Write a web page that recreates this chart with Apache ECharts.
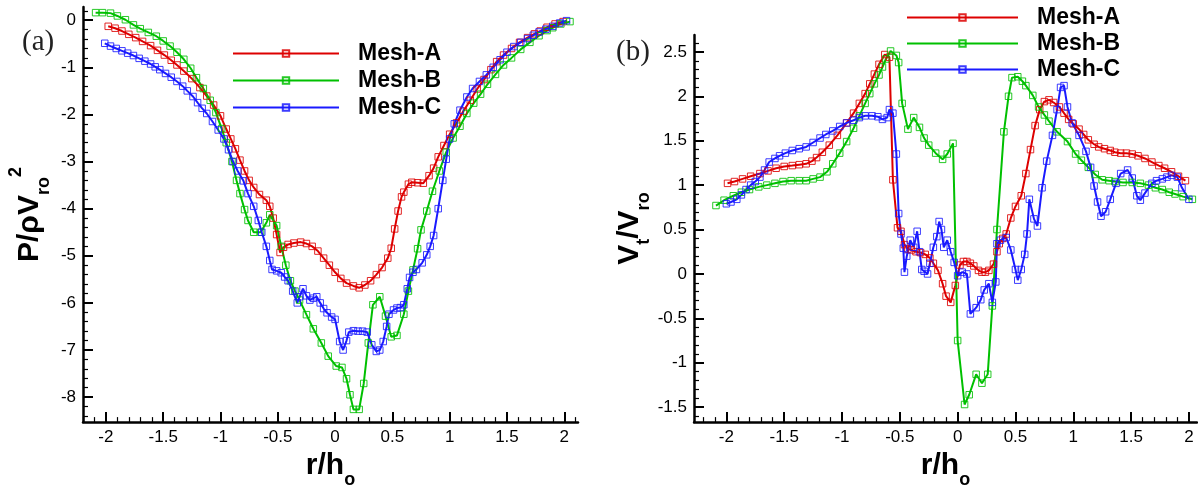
<!DOCTYPE html>
<html>
<head>
<meta charset="utf-8">
<script src="https://cdn.jsdelivr.net/npm/echarts@6/dist/echarts.min.js"></script>
<style>
html,body{margin:0;padding:0;background:#fff;}
#c{width:1198px;height:494px;}
</style>
</head>
<body>
<div id="c"></div>
<script>
// ---------- tick labels ----------
const xTicks = [-2, -1.5, -1, -0.5, 0, 0.5, 1, 1.5, 2];
const yTicksA = [-8, -7, -6, -5, -4, -3, -2, -1, 0];
const yTicksB = [-1.5, -1, -0.5, 0, 0.5, 1, 1.5, 2, 2.5];
const seriesNames = ['Mesh-A', 'Mesh-B', 'Mesh-C'];

// ---------- panel (a): P/rhoV^2 vs r/h ----------
const aMeshA = [[-1.98,-0.13],[-1.92,-0.17],[-1.86,-0.23],[-1.8,-0.3],[-1.74,-0.37],[-1.68,-0.45],[-1.61,-0.54],[-1.55,-0.64],[-1.49,-0.74],[-1.43,-0.85],[-1.38,-0.95],[-1.32,-1.08],[-1.25,-1.24],[-1.18,-1.43],[-1.12,-1.61],[-1.06,-1.8],[-1.0,-2.03],[-0.95,-2.31],[-0.91,-2.52],[-0.87,-2.73],[-0.83,-2.97],[-0.79,-3.2],[-0.75,-3.4],[-0.71,-3.55],[-0.66,-3.7],[-0.6,-3.82],[-0.57,-3.95],[-0.54,-4.2],[-0.51,-4.55],[-0.48,-4.93],[-0.45,-4.82],[-0.41,-4.76],[-0.36,-4.73],[-0.3,-4.71],[-0.25,-4.74],[-0.2,-4.8],[-0.15,-4.9],[-0.1,-5.05],[-0.05,-5.2],[0.0,-5.35],[0.05,-5.48],[0.1,-5.58],[0.16,-5.64],[0.21,-5.68],[0.26,-5.62],[0.31,-5.53],[0.36,-5.4],[0.41,-5.25],[0.46,-5.05],[0.49,-4.84],[0.52,-4.43],[0.55,-4.05],[0.58,-3.75],[0.6,-3.65],[0.64,-3.48],[0.67,-3.44],[0.72,-3.45],[0.77,-3.46],[0.82,-3.3],[0.86,-3.14],[0.9,-2.9],[0.95,-2.66],[1.0,-2.42],[1.06,-2.18],[1.12,-1.93],[1.18,-1.7],[1.24,-1.46],[1.3,-1.26],[1.36,-1.05],[1.41,-0.88],[1.47,-0.74],[1.54,-0.6],[1.61,-0.47],[1.68,-0.37],[1.74,-0.29],[1.79,-0.23],[1.85,-0.15],[1.92,-0.08],[1.99,-0.03]];
const aMeshB = [[-2.09,0.16],[-2.03,0.16],[-1.96,0.15],[-1.9,0.09],[-1.83,0.01],[-1.76,-0.1],[-1.7,-0.18],[-1.63,-0.26],[-1.56,-0.34],[-1.5,-0.44],[-1.44,-0.55],[-1.38,-0.68],[-1.32,-0.83],[-1.26,-1.02],[-1.21,-1.22],[-1.15,-1.45],[-1.09,-1.7],[-1.04,-1.96],[-0.99,-2.3],[-0.95,-2.6],[-0.9,-3.0],[-0.86,-3.4],[-0.83,-3.68],[-0.79,-4.02],[-0.76,-4.25],[-0.71,-4.5],[-0.65,-4.5],[-0.6,-4.3],[-0.57,-4.13],[-0.51,-4.36],[-0.47,-4.8],[-0.43,-5.2],[-0.39,-5.53],[-0.35,-5.75],[-0.31,-5.94],[-0.25,-6.25],[-0.19,-6.55],[-0.12,-6.85],[-0.06,-7.13],[0.01,-7.34],[0.06,-7.37],[0.1,-7.61],[0.13,-7.95],[0.16,-8.26],[0.21,-8.26],[0.25,-7.71],[0.29,-6.85],[0.33,-6.04],[0.39,-5.87],[0.44,-6.28],[0.49,-6.72],[0.54,-6.69],[0.6,-6.24],[0.64,-5.75],[0.68,-5.3],[0.72,-4.85],[0.75,-4.45],[0.8,-4.05],[0.85,-3.63],[0.91,-3.2],[0.97,-2.8],[1.03,-2.5],[1.09,-2.25],[1.15,-1.98],[1.21,-1.76],[1.27,-1.57],[1.33,-1.36],[1.4,-1.15],[1.47,-0.95],[1.54,-0.8],[1.62,-0.62],[1.7,-0.47],[1.78,-0.33],[1.85,-0.22],[1.9,-0.16],[1.97,-0.08],[2.05,-0.03]];
const aMeshC = [[-2.01,-0.49],[-1.96,-0.55],[-1.91,-0.6],[-1.86,-0.65],[-1.81,-0.7],[-1.76,-0.75],[-1.71,-0.81],[-1.66,-0.87],[-1.61,-0.93],[-1.57,-0.99],[-1.53,-1.05],[-1.48,-1.13],[-1.43,-1.21],[-1.38,-1.3],[-1.33,-1.4],[-1.29,-1.5],[-1.24,-1.62],[-1.2,-1.75],[-1.16,-1.87],[-1.12,-1.98],[-1.07,-2.15],[-1.02,-2.33],[-0.97,-2.52],[-0.93,-2.75],[-0.89,-3.0],[-0.85,-3.2],[-0.8,-3.41],[-0.76,-3.68],[-0.71,-3.95],[-0.67,-4.25],[-0.64,-4.5],[-0.6,-4.8],[-0.57,-5.1],[-0.55,-5.29],[-0.51,-5.32],[-0.47,-5.36],[-0.44,-5.45],[-0.41,-5.53],[-0.37,-5.75],[-0.33,-6.0],[-0.31,-5.87],[-0.28,-5.7],[-0.25,-5.85],[-0.22,-5.94],[-0.19,-5.9],[-0.16,-5.87],[-0.13,-6.0],[-0.1,-6.12],[-0.07,-6.21],[-0.03,-6.3],[0.0,-6.35],[0.04,-6.82],[0.07,-7.0],[0.1,-6.8],[0.12,-6.62],[0.16,-6.59],[0.2,-6.6],[0.24,-6.6],[0.28,-6.62],[0.32,-6.89],[0.36,-7.03],[0.39,-7.0],[0.42,-6.82],[0.45,-6.5],[0.47,-6.24],[0.51,-6.15],[0.54,-6.11],[0.57,-6.1],[0.6,-6.04],[0.63,-5.7],[0.65,-5.46],[0.68,-5.35],[0.71,-5.29],[0.76,-5.15],[0.8,-4.98],[0.83,-4.8],[0.86,-4.57],[0.9,-4.0],[0.94,-3.4],[0.97,-2.95],[1.0,-2.52],[1.04,-2.2],[1.09,-1.91],[1.15,-1.63],[1.2,-1.45],[1.26,-1.3],[1.32,-1.16],[1.38,-1.0],[1.44,-0.84],[1.5,-0.68],[1.56,-0.56],[1.62,-0.47],[1.68,-0.39],[1.73,-0.32],[1.78,-0.25],[1.84,-0.19],[1.9,-0.13],[1.96,-0.06],[2.02,-0.01]];

// ---------- panel (b): Vt/Vro vs r/h ----------
const bMeshA = [[-1.99,1.02],[-1.93,1.04],[-1.86,1.07],[-1.79,1.1],[-1.71,1.13],[-1.64,1.16],[-1.57,1.19],[-1.5,1.21],[-1.43,1.22],[-1.37,1.23],[-1.31,1.24],[-1.26,1.27],[-1.22,1.31],[-1.17,1.37],[-1.11,1.45],[-1.04,1.56],[-0.96,1.7],[-0.9,1.81],[-0.85,1.92],[-0.8,2.03],[-0.76,2.14],[-0.72,2.25],[-0.68,2.36],[-0.63,2.47],[-0.59,2.44],[-0.56,1.06],[-0.52,0.52],[-0.49,0.48],[-0.46,0.33],[-0.43,0.28],[-0.4,0.27],[-0.36,0.25],[-0.32,0.24],[-0.28,0.22],[-0.24,0.18],[-0.21,0.12],[-0.17,0.04],[-0.13,-0.11],[-0.1,-0.25],[-0.06,-0.32],[-0.02,-0.13],[0.02,0.1],[0.05,0.14],[0.08,0.14],[0.11,0.12],[0.14,0.09],[0.18,0.04],[0.21,0.02],[0.24,0.02],[0.27,0.04],[0.31,0.11],[0.34,0.25],[0.36,0.34],[0.39,0.4],[0.42,0.45],[0.46,0.63],[0.5,0.76],[0.55,0.88],[0.59,1.13],[0.63,1.4],[0.67,1.67],[0.71,1.85],[0.75,1.94],[0.79,1.96],[0.83,1.93],[0.88,1.88],[0.92,1.81],[0.96,1.74],[1.0,1.69],[1.05,1.63],[1.09,1.57],[1.13,1.51],[1.18,1.46],[1.22,1.43],[1.27,1.41],[1.32,1.39],[1.36,1.37],[1.41,1.36],[1.46,1.36],[1.51,1.35],[1.56,1.33],[1.62,1.3],[1.68,1.26],[1.74,1.22],[1.79,1.19],[1.85,1.15],[1.91,1.1],[1.97,1.05]];
const bMeshB = [[-2.09,0.77],[-2.02,0.83],[-1.94,0.88],[-1.87,0.92],[-1.8,0.95],[-1.72,0.98],[-1.65,1.0],[-1.58,1.02],[-1.51,1.04],[-1.44,1.05],[-1.37,1.05],[-1.31,1.05],[-1.25,1.07],[-1.19,1.09],[-1.13,1.15],[-1.08,1.24],[-1.02,1.36],[-0.96,1.49],[-0.9,1.64],[-0.85,1.78],[-0.8,1.92],[-0.76,2.03],[-0.72,2.14],[-0.68,2.24],[-0.65,2.33],[-0.62,2.42],[-0.58,2.51],[-0.53,2.46],[-0.51,2.38],[-0.48,1.92],[-0.43,1.63],[-0.38,1.76],[-0.33,1.65],[-0.29,1.53],[-0.25,1.45],[-0.19,1.36],[-0.13,1.29],[-0.09,1.35],[-0.04,1.47],[0.0,-0.75],[0.06,-1.47],[0.1,-1.36],[0.16,-1.13],[0.21,-1.23],[0.26,-1.13],[0.3,-0.36],[0.34,0.5],[0.4,1.6],[0.44,2.0],[0.47,2.21],[0.52,2.22],[0.56,2.17],[0.59,2.12],[0.65,2.01],[0.7,1.88],[0.75,1.79],[0.79,1.72],[0.86,1.6],[0.95,1.49],[1.02,1.35],[1.07,1.28],[1.13,1.2],[1.19,1.12],[1.25,1.06],[1.31,1.05],[1.36,1.04],[1.43,1.03],[1.51,1.03],[1.58,1.02],[1.65,1.0],[1.71,0.97],[1.77,0.95],[1.83,0.92],[1.88,0.9],[1.95,0.87],[2.03,0.84]];
const bMeshC = [[-2.0,0.79],[-1.96,0.81],[-1.91,0.84],[-1.87,0.89],[-1.83,0.95],[-1.79,1.0],[-1.75,1.04],[-1.71,1.09],[-1.67,1.17],[-1.63,1.26],[-1.58,1.3],[-1.54,1.33],[-1.49,1.36],[-1.43,1.39],[-1.37,1.41],[-1.31,1.43],[-1.25,1.48],[-1.19,1.53],[-1.14,1.57],[-1.08,1.61],[-1.02,1.66],[-0.96,1.7],[-0.9,1.73],[-0.85,1.76],[-0.8,1.78],[-0.74,1.78],[-0.69,1.77],[-0.65,1.74],[-0.61,1.76],[-0.59,1.85],[-0.56,1.81],[-0.53,1.35],[-0.51,0.68],[-0.49,0.45],[-0.47,0.29],[-0.46,0.02],[-0.44,0.2],[-0.41,0.38],[-0.38,0.3],[-0.35,0.48],[-0.33,0.25],[-0.31,0.05],[-0.29,0.03],[-0.26,0.0],[-0.24,0.12],[-0.21,0.3],[-0.18,0.42],[-0.16,0.59],[-0.14,0.5],[-0.12,0.3],[-0.09,0.38],[-0.06,0.25],[-0.03,0.13],[0.0,-0.02],[0.04,0.02],[0.08,0.0],[0.11,-0.45],[0.16,-0.38],[0.2,-0.29],[0.23,-0.18],[0.27,-0.11],[0.3,-0.32],[0.33,-0.09],[0.34,0.34],[0.37,0.38],[0.42,0.41],[0.46,0.27],[0.5,0.05],[0.52,-0.07],[0.55,0.05],[0.58,0.22],[0.6,0.45],[0.62,0.84],[0.66,0.62],[0.69,0.54],[0.73,0.97],[0.77,1.27],[0.82,1.56],[0.86,1.85],[0.89,2.1],[0.92,2.12],[0.95,1.88],[0.99,1.7],[1.05,1.56],[1.11,1.38],[1.15,1.2],[1.18,0.99],[1.21,0.81],[1.24,0.65],[1.28,0.7],[1.32,0.84],[1.37,1.02],[1.41,1.13],[1.47,1.17],[1.51,1.08],[1.55,0.88],[1.58,0.83],[1.62,0.91],[1.68,1.02],[1.72,1.05],[1.77,1.07],[1.81,1.09],[1.85,1.11],[1.9,1.09],[1.94,0.97],[2.0,0.84]];

// ---------- styling ----------
const COLORS = ['#dd0000', '#00c000', '#1a1aff'];
const FONT = 'Liberation Sans';

function minorList(lo, hi, step, majors) {
  const out = [];
  const n0 = Math.ceil(lo / step - 1e-9), n1 = Math.floor(hi / step + 1e-9);
  for (let n = n0; n <= n1; n++) {
    const v = Math.round(n * step * 100) / 100;
    if (!majors.some(m => Math.abs(m - v) < 1e-6)) out.push(v);
  }
  return out;
}

const XA = [-2.2, 2.12], YA = [-8.53, 0.28];
const XB = [-2.28, 2.07], YB = [-1.668, 2.69];

function majorAxis(kind, grid, range, ticks, extra) {
  return Object.assign({
    type: 'value', gridIndex: grid, min: range[0], max: range[1],
    position: kind === 'x' ? 'bottom' : 'left',
    splitLine: { show: false },
    axisLine: { show: true, onZero: false, lineStyle: { color: '#000', width: 2.5 } },
    axisTick: { show: true, inside: true, length: 10, customValues: ticks, lineStyle: { color: '#000', width: 2 } },
    axisLabel: { show: true, customValues: ticks, margin: 7, color: '#000', fontFamily: FONT, fontSize: 17 }
  }, extra || {});
}
function minorAxis(kind, grid, range, vals) {
  return {
    type: 'value', gridIndex: grid, min: range[0], max: range[1],
    position: kind === 'x' ? 'bottom' : 'left',
    splitLine: { show: false },
    axisLine: { show: false, onZero: false },
    axisTick: { show: true, inside: true, length: 5, customValues: vals, lineStyle: { color: '#000', width: 1.2 } },
    axisLabel: { show: false }
  };
}

const nameRich = {
  m: { fontFamily: FONT, fontWeight: 'bold', fontSize: 30, color: '#000', lineHeight: 46 },
  s: { fontFamily: FONT, fontWeight: 'bold', fontSize: 18, color: '#000', lineHeight: 18, verticalAlign: 'bottom' },
  p: { fontFamily: FONT, fontWeight: 'bold', fontSize: 18, color: '#000', lineHeight: 18, verticalAlign: 'top' }
};

function mk(name, data, ci, xi, yi) {
  return {
    type: 'line', name: name, data: data, xAxisIndex: xi, yAxisIndex: yi,
    symbol: 'rect', symbolSize: 6.5, showAllSymbol: true,
    lineStyle: { color: COLORS[ci], width: 2 },
    itemStyle: { color: 'rgba(255,255,255,0)', borderColor: COLORS[ci], borderWidth: 1, opacity: 0.85 },
    emphasis: { disabled: true }, silent: true
  };
}

const legendBase = {
  data: seriesNames, orient: 'vertical', selectedMode: false, padding: 0,
  itemWidth: 106, itemHeight: 8, itemGap: 4,
  textStyle: { fontFamily: FONT, fontWeight: 'bold', fontSize: 23, color: '#000', padding: [0, 0, 0, 14] }
};

const chart = echarts.init(document.getElementById('c'), null, { renderer: 'canvas' });
chart.setOption({
  animation: false,
  backgroundColor: '#fff',
  grid: [
    { left: 83, top: 7, width: 495, height: 430 },
    { left: 694, top: 35, width: 503, height: 405 }
  ],
  xAxis: [
    majorAxis('x', 0, XA, xTicks, { name: '{m|r/h}{s|o}', nameLocation: 'middle', nameGap: 18, nameTextStyle: { rich: nameRich } }),
    minorAxis('x', 0, XA, minorList(XA[0], XA[1], 0.1, xTicks)),
    majorAxis('x', 1, XB, xTicks, { name: '{m|r/h}{s|o}', nameLocation: 'middle', nameGap: 18, nameTextStyle: { rich: nameRich } }),
    minorAxis('x', 1, XB, minorList(XB[0], XB[1], 0.1, xTicks))
  ],
  yAxis: [
    majorAxis('y', 0, YA, yTicksA, { name: '{m|P/ρV}{s|ro}{p|2}', nameLocation: 'middle', nameGap: 30, nameRotate: 90, nameTextStyle: { rich: nameRich } }),
    minorAxis('y', 0, YA, minorList(YA[0], YA[1], 0.2, yTicksA)),
    majorAxis('y', 1, YB, yTicksB, { name: '{m|V}{s|t}{m|/V}{s|ro}', nameLocation: 'middle', nameGap: 41, nameRotate: 90, nameTextStyle: { rich: nameRich } }),
    minorAxis('y', 1, YB, minorList(YB[0], YB[1], 0.1, yTicksB))
  ],
  legend: [
    Object.assign({}, legendBase, { left: 232, top: 42 }),
    Object.assign({}, legendBase, { left: 906, top: 6, itemWidth: 111, itemGap: 3 })
  ],
  graphic: [
    { type: 'text', left: 22, top: 28, style: { text: '(a)', fontFamily: 'Liberation Serif', fontSize: 29, fill: '#222' } },
    { type: 'text', left: 616, top: 38, style: { text: '(b)', fontFamily: 'Liberation Serif', fontSize: 29, fill: '#222' } }
  ],
  series: [
    mk('Mesh-A', aMeshA, 0, 0, 0),
    mk('Mesh-B', aMeshB, 1, 0, 0),
    mk('Mesh-C', aMeshC, 2, 0, 0),
    mk('Mesh-A', bMeshA, 0, 2, 2),
    mk('Mesh-B', bMeshB, 1, 2, 2),
    mk('Mesh-C', bMeshC, 2, 2, 2)
  ]
});
</script>
</body>
</html>
